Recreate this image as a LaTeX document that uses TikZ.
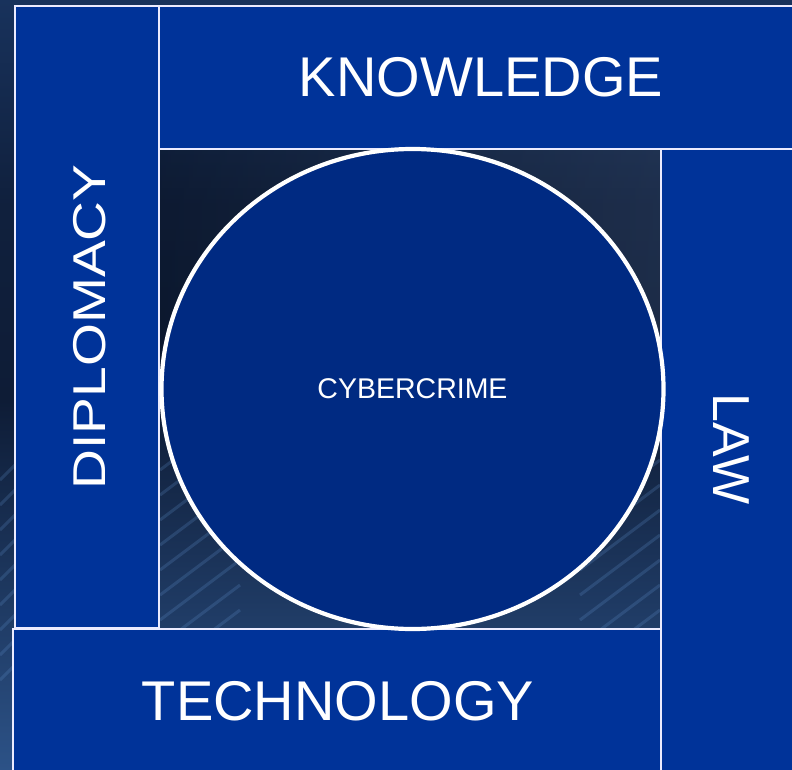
\documentclass[tikz,border=0pt]{standalone}
\usepackage{fontspec}
\setmainfont{Liberation Sans}
\usetikzlibrary{shapes.geometric}
\definecolor{panelblue}{RGB}{0,51,153}
\definecolor{coreblue}{RGB}{0,42,130}
\definecolor{bgtop}{RGB}{24,50,92}
\definecolor{bgmid}{RGB}{14,28,54}
\definecolor{bgbot}{RGB}{44,82,135}
\definecolor{streak}{RGB}{100,150,210}
\begin{document}
\begin{tikzpicture}[x=1pt,y=-1pt,
  panel/.style={draw=white!92!blue,line width=1.6pt,fill=panelblue},
  bigtext/.style={text=white,inner sep=0pt,font=\fontsize{56}{60}\selectfont},
  core/.style={ellipse,draw=white,line width=4.2pt,fill=coreblue,
    minimum width=502pt,minimum height=480pt,inner sep=0pt},
  coretext/.style={text=white,font=\fontsize{28.5}{32}\selectfont}]
\useasboundingbox (0,0) rectangle (792,770);
\clip (0,0) rectangle (792,770);
% backdrop
\shade[top color=bgtop,bottom color=bgmid,middle color=bgmid!80!bgtop]
  (0,0) rectangle (792,400);
\shade[top color=bgmid,bottom color=bgbot] (0,400) rectangle (792,770);
\shade[left color=black,right color=bgtop!70!white,opacity=0.18]
  (159,149) rectangle (661,420);
% soft light streaks in the lower backdrop
\begin{scope}[streak,opacity=0.3,line width=1.4pt]
  \foreach \a in {0,7,...,84}{
    \draw (413,720) -- ++({180+\a}:-330);
    \draw (413,720) -- ++({-\a}:-330);
  }
\end{scope}
\begin{scope}[streak,opacity=0.22,line width=3pt]
  \foreach \y in {460,485,...,660}{
    \draw (0,\y+20) -- (30,\y-10);
    \draw (160,\y+10) -- (240,\y-50);
    \draw (580,\y+10) -- (660,\y-50);
  }
\end{scope}
% frame panels
\draw[panel] (15,6) rectangle (159,628);
\draw[panel] (159,6) rectangle (800,149);
\draw[panel] (661,149) rectangle (800,780);
\draw[panel] (13,629) rectangle (661,780);
% panel labels
\node[bigtext] (knowledge) at (481,77) {KNOWLEDGE};
\node[bigtext] (technology) at (338,701.5) {TECHNOLOGY};
\node[bigtext,rotate=90,font=\fontsize{46}{50}\selectfont] (diplomacy) at (90,327)
  {\scalebox{1.2}[1]{DIPLOMACY}};
\node[bigtext,rotate=-90,font=\fontsize{52}{56}\selectfont] (law) at (731,449) {LAW};
% centre
\node[core] (cyber) at (412.5,389) {};
\node[coretext] (cybertext) at (cyber.center) {CYBERCRIME};
\end{tikzpicture}
\end{document}
